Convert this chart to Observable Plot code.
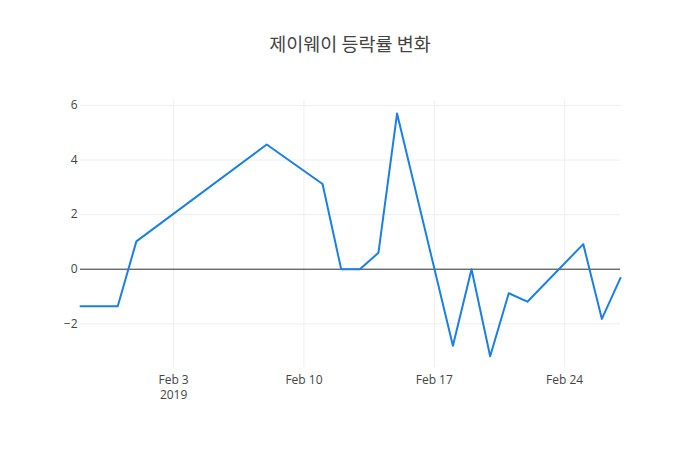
<!DOCTYPE html>
<html>
<head>
<meta charset="utf-8">
<script src="https://cdn.jsdelivr.net/npm/d3@7"></script>
<script src="https://cdn.jsdelivr.net/npm/@observablehq/plot@0.6"></script>
<style>
  html, body { margin: 0; padding: 0; background: #fff; }
  #wrap { position: relative; width: 700px; height: 450px; }
  #title { position: absolute; left: 0; top: 30px; width: 700px; text-align: center;
           font-family: "Noto Sans CJK KR", "Open Sans", sans-serif; font-size: 18.5px; color: #444; }
  svg { font-family: "Open Sans", "Noto Sans", sans-serif; }
</style>
</head>
<body>
<div id="wrap"><div id="title">제이웨이 등락률 변화</div></div>
<script>
const dates = ["2019-01-29","2019-01-31","2019-02-01","2019-02-08","2019-02-11","2019-02-12",
  "2019-02-13","2019-02-14","2019-02-15","2019-02-18","2019-02-19","2019-02-20","2019-02-21",
  "2019-02-22","2019-02-25","2019-02-26","2019-02-27"];
const rates = [-1.36, -1.36, 1.02, 4.57, 3.12, 0, 0, 0.60, 5.70, -2.80, 0, -3.19, -0.88,
  -1.19, 0.92, -1.82, -0.32];
const xTicks = ["2019-02-03","2019-02-10","2019-02-17","2019-02-24"];
const xTickLabels = ["Feb 3\n2019","Feb 10","Feb 17","Feb 24"];
const yTicks = [-2, 0, 2, 4, 6];

const parse = d3.utcParse("%Y-%m-%d");
const data = dates.map((d, i) => ({date: parse(d), rate: rates[i]}));
const tickDates = xTicks.map(parse);
const labelMap = new Map(tickDates.map((d, i) => [+d, xTickLabels[i]]));

const chart = Plot.plot({
  width: 700,
  height: 450,
  marginLeft: 80,
  marginRight: 80,
  marginTop: 100,
  marginBottom: 83,
  style: {fontSize: "12px", color: "#444", background: "transparent"},
  x: {type: "utc", domain: [parse("2019-01-29"), parse("2019-02-27")], label: null},
  y: {domain: [-3.6, 6.18], label: null},
  marks: [
    Plot.gridX(tickDates, {stroke: "#eee", strokeOpacity: 1, strokeWidth: 1}),
    Plot.gridY(yTicks, {stroke: "#eee", strokeOpacity: 1, strokeWidth: 1}),
    Plot.ruleY([0], {stroke: "#333", strokeWidth: 1}),
    Plot.axisY(yTicks, {tickSize: 0, tickPadding: 3, fill: "#444", fontSize: 12, label: null,
      tickFormat: d => d < 0 ? "\u2212" + Math.abs(d) : String(d)}),
    Plot.axisX(tickDates, {tickSize: 0, tickPadding: 5, fill: "#444", fontSize: 12, label: null,
      tickFormat: d => labelMap.get(+d), lineHeight: 1.3}),
    Plot.line(data, {x: "date", y: "rate", stroke: "#1a7fe6", strokeWidth: 2})
  ]
});
document.getElementById("wrap").prepend(chart);
chart.style.position = "absolute";
chart.style.left = "0";
chart.style.top = "0";
</script>
</body>
</html>
